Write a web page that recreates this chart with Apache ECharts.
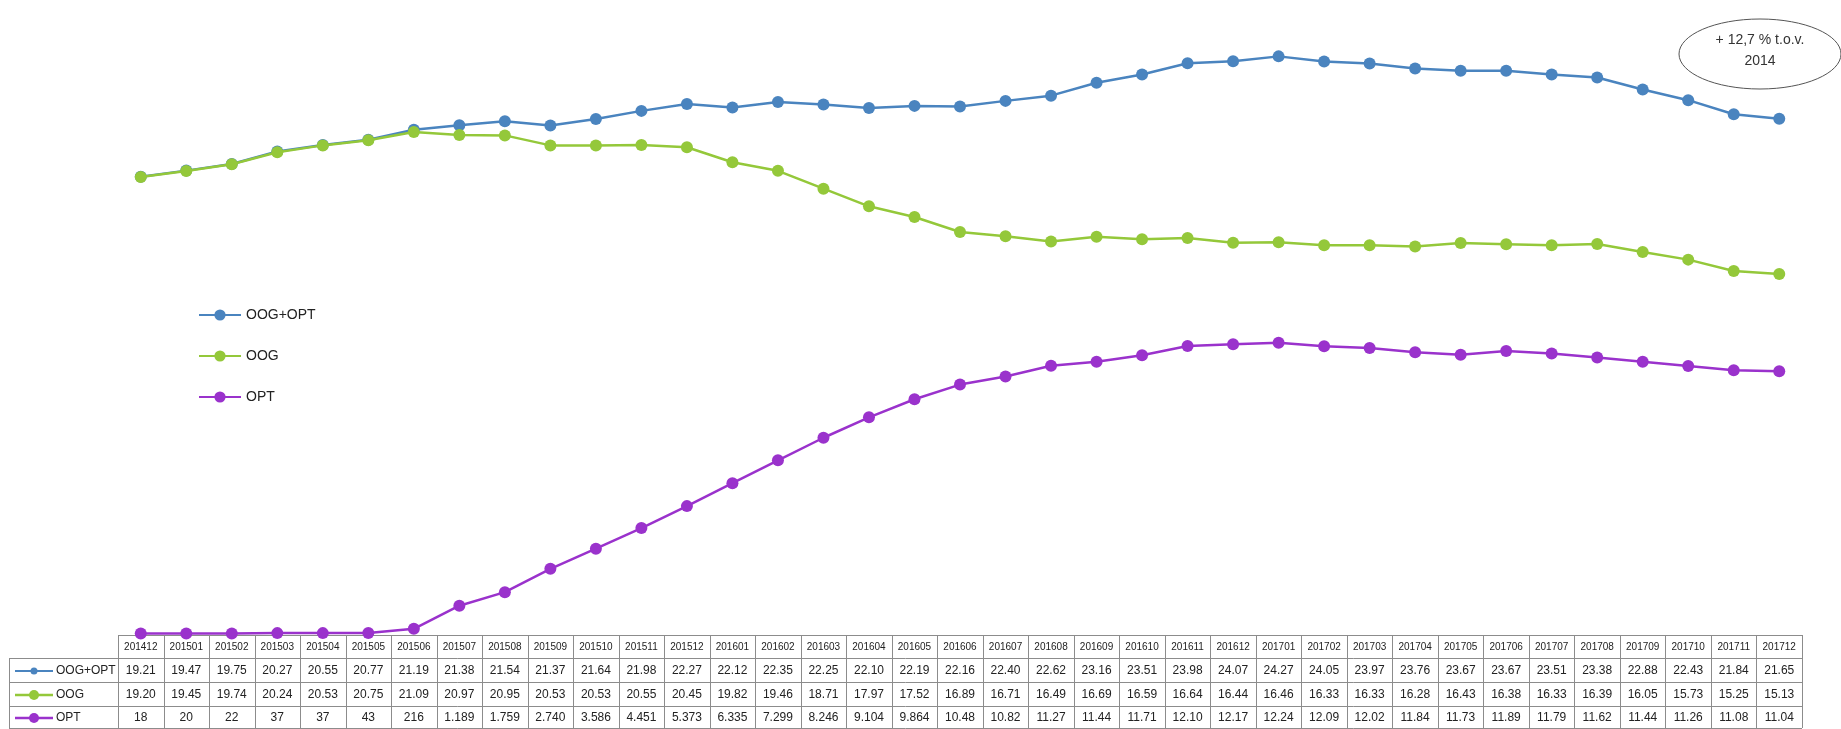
<!DOCTYPE html>
<html>
<head>
<meta charset="utf-8">
<script src="https://cdn.jsdelivr.net/npm/echarts@6/dist/echarts.min.js"></script>
<style>
html,body{margin:0;padding:0;background:#fff;}
#chart{width:1841px;height:729px;}
</style>
</head>
<body>
<div id="chart"></div>
<script>
const categories = ['201412','201501','201502','201503','201504','201505','201506','201507','201508','201509','201510','201511','201512',
  '201601','201602','201603','201604','201605','201606','201607','201608','201609','201610','201611','201612',
  '201701','201702','201703','201704','201705','201706','201707','201708','201709','201710','201711','201712'];
const seriesNames = ['OOG+OPT','OOG','OPT'];
const oogOpt = [19.21,19.47,19.75,20.27,20.55,20.77,21.19,21.38,21.54,21.37,21.64,21.98,22.27,22.12,22.35,22.25,22.10,22.19,22.16,22.40,22.62,23.16,23.51,23.98,24.07,24.27,24.05,23.97,23.76,23.67,23.67,23.51,23.38,22.88,22.43,21.84,21.65];
const oog = [19.20,19.45,19.74,20.24,20.53,20.75,21.09,20.97,20.95,20.53,20.53,20.55,20.45,19.82,19.46,18.71,17.97,17.52,16.89,16.71,16.49,16.69,16.59,16.64,16.44,16.46,16.33,16.33,16.28,16.43,16.38,16.33,16.39,16.05,15.73,15.25,15.13];
const opt = [0.018,0.020,0.022,0.037,0.037,0.043,0.216,1.189,1.759,2.740,3.586,4.451,5.373,6.335,7.299,8.246,9.104,9.864,10.48,10.82,11.27,11.44,11.71,12.10,12.17,12.24,12.09,12.02,11.84,11.73,11.89,11.79,11.62,11.44,11.26,11.08,11.04];
const annotationLines = ['+ 12,7 % t.o.v.', '2014'];

const colors = ['#4a84bf', '#94c83a', '#9a32cc'];
const allData = [oogOpt, oog, opt];
const FONT = 'Liberation Sans';

function fmt(si, v) {
  if (si < 2) return v.toFixed(2);
  if (v < 1) return String(Math.round(v * 1000));
  if (v < 10) return v.toFixed(3);
  return v.toFixed(2);
}

const chart = echarts.init(document.getElementById('chart'), null, {renderer: 'canvas'});
chart.setOption({
  animation: false,
  backgroundColor: '#fff',
  grid: {left: 118, right: 39, top: 39, bottom: 95},
  xAxis: {type: 'category', data: categories, boundaryGap: true, show: false},
  yAxis: {type: 'value', min: 0, max: 25, show: false},
  legend: {
    orient: 'vertical', left: 193, top: 303, itemGap: 27, itemWidth: 42, itemHeight: 14,
    textStyle: {fontFamily: FONT, fontSize: 14, color: '#222'},
    data: seriesNames
  },
  series: seriesNames.map((n, i) => ({
    name: n, type: 'line', data: allData[i],
    symbol: 'circle', symbolSize: 12,
    lineStyle: {width: 2.5, color: colors[i]},
    itemStyle: {color: colors[i]},
    z: 2 + i
  }))
});

function buildTable() {
  const g = [];
  const rows = [635, 658, 682, 706, 728];
  const bw = chart.convertToPixel({xAxisIndex: 0}, 1) - chart.convertToPixel({xAxisIndex: 0}, 0);
  const x0 = chart.convertToPixel({xAxisIndex: 0}, 0) - bw / 2;
  const x1 = x0 + bw * categories.length;
  const legLeft = 9;
  const lineStyle = {stroke: '#8c8c8c', lineWidth: 1};
  g.push({type: 'line', shape: {x1: x0, y1: rows[0] + 0.5, x2: x1, y2: rows[0] + 0.5}, style: lineStyle, silent: true});
  for (let r = 1; r < rows.length; r++) {
    g.push({type: 'line', shape: {x1: legLeft, y1: rows[r] + 0.5, x2: x1, y2: rows[r] + 0.5}, style: lineStyle, silent: true});
  }
  g.push({type: 'line', shape: {x1: legLeft + 0.5, y1: rows[1], x2: legLeft + 0.5, y2: rows[4]}, style: lineStyle, silent: true});
  for (let c = 0; c <= categories.length; c++) {
    const x = Math.round(x0 + c * bw) + 0.5;
    g.push({type: 'line', shape: {x1: x, y1: rows[0], x2: x, y2: rows[4]}, style: lineStyle, silent: true});
  }
  categories.forEach((cat, i) => {
    const cx = chart.convertToPixel({xAxisIndex: 0}, i);
    g.push({type: 'text', x: cx, y: (rows[0] + rows[1]) / 2 + 1, silent: true,
      style: {text: cat, font: '10px ' + FONT, fill: '#222', align: 'center', verticalAlign: 'middle'}});
  });
  seriesNames.forEach((n, si) => {
    const cy = (rows[si + 1] + rows[si + 2]) / 2 + 1;
    g.push({type: 'line', shape: {x1: 15, y1: cy, x2: 53, y2: cy}, style: {stroke: colors[si], lineWidth: si === 0 ? 2 : 2.5}, silent: true});
    g.push({type: 'circle', shape: {cx: 34, cy: cy, r: si === 0 ? 3.5 : 5}, style: {fill: colors[si]}, silent: true});
    g.push({type: 'text', x: 56, y: cy, silent: true,
      style: {text: n, font: '12px ' + FONT, fill: '#222', align: 'left', verticalAlign: 'middle'}});
    allData[si].forEach((v, i) => {
      const cx = chart.convertToPixel({xAxisIndex: 0}, i);
      g.push({type: 'text', x: cx, y: cy, silent: true,
        style: {text: fmt(si, v), font: '12px ' + FONT, fill: '#222', align: 'center', verticalAlign: 'middle'}});
    });
  });
  g.push({type: 'ellipse', shape: {cx: 1760, cy: 54, rx: 81, ry: 35}, style: {fill: '#fff', stroke: '#555', lineWidth: 1}, silent: true});
  g.push({type: 'text', x: 1760, y: 40, silent: true,
    style: {text: annotationLines[0], font: '14px ' + FONT, fill: '#333', align: 'center', verticalAlign: 'middle'}});
  g.push({type: 'text', x: 1760, y: 61, silent: true,
    style: {text: annotationLines[1], font: '14px ' + FONT, fill: '#333', align: 'center', verticalAlign: 'middle'}});
  chart.setOption({graphic: {elements: g}});
}
buildTable();
</script>
</body>
</html>
